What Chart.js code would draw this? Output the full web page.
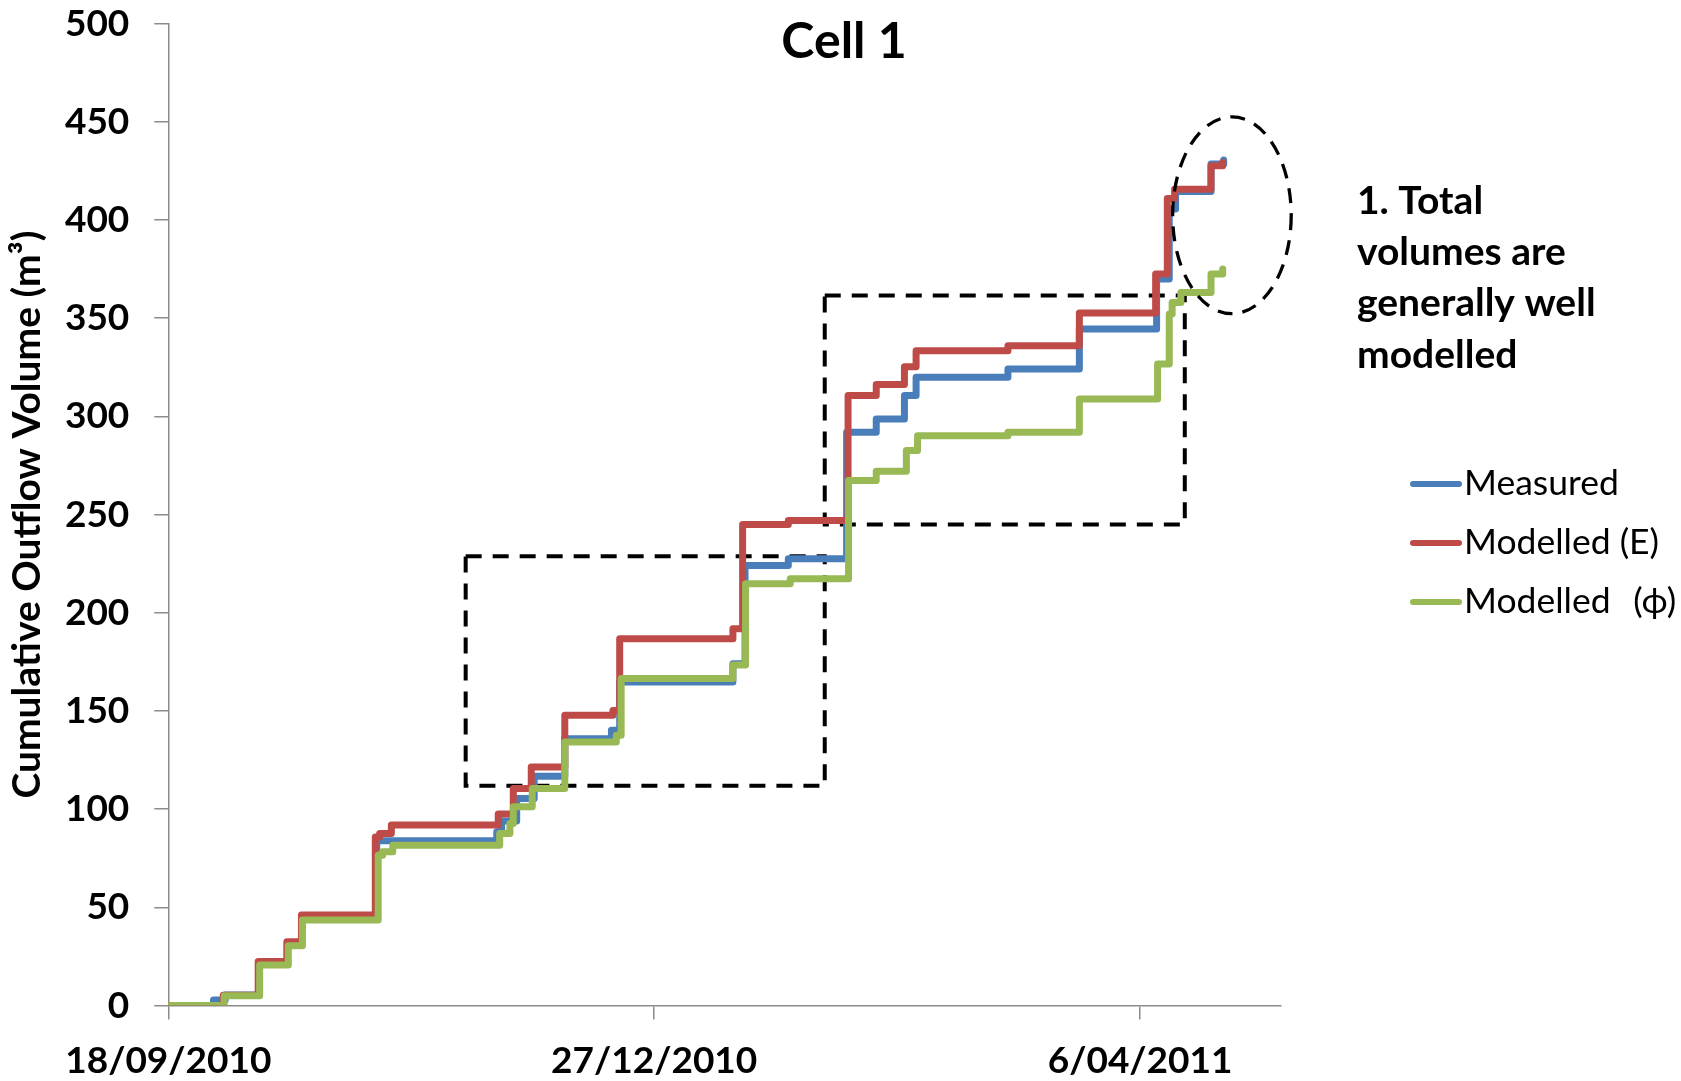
<!DOCTYPE html>
<html><head><meta charset="utf-8">
<script src="https://cdn.jsdelivr.net/npm/chart.js@4.4.1/dist/chart.umd.min.js"></script>
<style>html,body{margin:0;padding:0;background:#fff;overflow:hidden;}</style>
</head><body>
<canvas id="c" width="1681" height="1081"></canvas>
<script>
// ---- data (days since 18/09/2010, cumulative volume m3) ----
const xTickDays = [0, 100, 200];
const xTickLabels = ['18/09/2010', '27/12/2010', '6/04/2011'];
const seriesNames = ['Measured', 'Modelled (E)', 'Modelled  \u2009(\u03D5)'];
const chartTitle = 'Cell 1';
const yAxisTitle = 'Cumulative Outflow Volume (m\u00B3)';

const measuredDay = [0, 9.3, 11.7, 18.6, 24.5, 27.5, 42.9, 67.6, 68.6, 71.7, 75.3, 81.6, 91.2, 92.9, 116.2, 118.7, 127.6, 139.6, 145.7, 151.5, 153.9, 172.8, 187.5, 203.4, 206.0, 207.3, 214.6, 217.2];
const measuredVol = [0, 2.8, 5.4, 21.8, 31.6, 44.0, 83.9, 88.5, 94.0, 105.4, 116.8, 135.9, 140.2, 164.8, 174.1, 224.1, 227.5, 291.9, 298.7, 310.6, 319.9, 324.1, 344.5, 370.0, 405.6, 414.5, 428.5, 430.5];

const modelEDay = [0, 11.3, 18.5, 24.4, 27.4, 42.6, 43.5, 45.9, 67.9, 71.0, 74.7, 81.6, 91.5, 92.9, 116.2, 118.2, 127.6, 139.9, 145.7, 151.5, 153.9, 172.8, 187.5, 203.2, 205.6, 207.1, 214.6, 217.0];
const modelEVol = [0, 5.3, 22.5, 32.5, 46.1, 85.9, 87.6, 92.0, 97.5, 110.5, 121.5, 147.8, 150.3, 186.8, 191.9, 245.0, 247.0, 310.6, 316.2, 325.3, 333.4, 336.0, 352.6, 372.5, 411.0, 415.7, 427.6, 429.3];

const modelPhiDay = [0, 11.5, 18.8, 24.7, 27.6, 43.2, 44.1, 46.2, 68.2, 70.3, 71.0, 74.9, 81.6, 92.2, 93.2, 116.2, 118.8, 128.0, 140.0, 145.7, 151.9, 154.2, 172.8, 187.5, 203.6, 206.0, 206.6, 208.4, 214.6, 217.0];
const modelPhiVol = [0, 5.0, 20.7, 30.5, 43.6, 76.6, 78.3, 81.7, 87.6, 92.7, 101.2, 110.5, 134.2, 137.6, 166.5, 173.4, 214.8, 217.3, 267.3, 272.1, 282.6, 290.2, 291.9, 308.9, 326.7, 352.1, 358.0, 363.1, 372.5, 375.0];

// highlighted regions (data coordinates)
const boxDays = [[61.2, 135.1], [135.1, 209.2]];
const boxVols = [[111.9, 228.8], [245.0, 361.6]];
const ellipseCenter = [218.9, 402.4];
const ellipseRadius = [12.2, 50.1];
const noteLines = ['1. Total', 'volumes are', 'generally well', 'modelled'];

const colors = ['#4A7EBB', '#BE4B48', '#98B954'];
const toXY = (d, v) => d.map((x, i) => ({x: x, y: v[i]}));

const overlay = {
  id: 'overlay',
  beforeDatasetsDraw(chart) {
    const ctx = chart.ctx, x = chart.scales.x, y = chart.scales.y;
    ctx.save();
    ctx.strokeStyle = '#000';
    ctx.lineWidth = 4;
    ctx.setLineDash([16, 11]);
    boxDays.forEach((bd, i) => {
      const l = x.getPixelForValue(bd[0]), r = x.getPixelForValue(bd[1]);
      const t = y.getPixelForValue(boxVols[i][1]), b = y.getPixelForValue(boxVols[i][0]);
      ctx.strokeRect(l, t, r - l, b - t);
    });
    ctx.restore();
  },
  afterDraw(chart) {
    const ctx = chart.ctx, x = chart.scales.x, y = chart.scales.y, ca = chart.chartArea;
    ctx.save();
    // title
    ctx.fillStyle = '#000';
    ctx.font = 'bold 50px Lato';
    ctx.textAlign = 'center'; ctx.textBaseline = 'middle';
    ctx.fillText(chartTitle, 844, 42);
    // ellipse
    const cx = x.getPixelForValue(ellipseCenter[0]), cy = y.getPixelForValue(ellipseCenter[1]);
    const rx = x.getPixelForValue(ellipseCenter[0] + ellipseRadius[0]) - cx;
    const ry = cy - y.getPixelForValue(ellipseCenter[1] + ellipseRadius[1]);
    ctx.strokeStyle = '#000'; ctx.lineWidth = 3.3; ctx.setLineDash([15, 10]);
    ctx.beginPath(); ctx.ellipse(cx, cy, rx, ry, 0, 0, Math.PI * 2); ctx.stroke();
    ctx.setLineDash([]);
    // note text
    ctx.fillStyle = '#000';
    ctx.font = 'bold 39px Lato';
    ctx.textAlign = 'left'; ctx.textBaseline = 'alphabetic';
    noteLines.forEach((t, i) => ctx.fillText(t, ca.right + 76, 214 + i * 51.2));
    // legend
    ctx.font = '35.5px Lato';
    ctx.textBaseline = 'middle';
    chart.data.datasets.forEach((ds, i) => {
      const ly = 484 + i * 59;
      ctx.strokeStyle = ds.borderColor; ctx.lineWidth = 6; ctx.lineCap = 'round';
      ctx.beginPath(); ctx.moveTo(ca.right + 132, ly); ctx.lineTo(ca.right + 178, ly); ctx.stroke();
      ctx.fillStyle = '#000';
      ctx.fillText(ds.label, ca.right + 183, ly);
    });
    ctx.restore();
  }
};

const mkDs = (i, d, v, order) => ({
  label: seriesNames[i], data: toXY(d, v), borderColor: colors[i], backgroundColor: colors[i],
  borderWidth: 7, pointRadius: 0, stepped: true, fill: false, order: order,
  borderCapStyle: 'round', borderJoinStyle: 'round'
});

const axisGray = '#8c8c8c';
new Chart(document.getElementById('c'), {
  type: 'line',
  data: { datasets: [
    mkDs(0, measuredDay, measuredVol, 3),
    mkDs(1, modelEDay, modelEVol, 2),
    mkDs(2, modelPhiDay, modelPhiVol, 1)
  ]},
  options: {
    responsive: false, animation: false,
    layout: { padding: { left: 0, right: 400, top: 23.6, bottom: 0 } },
    plugins: {
      legend: { display: false },
      tooltip: { enabled: false },
      title: { display: false }
    },
    scales: {
      x: {
        type: 'linear', min: 0, max: 229,
        afterBuildTicks: s => { s.ticks = xTickDays.map(v => ({ value: v })); },
        afterFit: s => { s.height = 75.4; s.paddingLeft = 0; s.paddingRight = 0; },
        ticks: { callback: (v, i) => xTickLabels[i], color: '#000', padding: 19,
          font: { family: 'Lato', size: 37, weight: 'bold' }, maxRotation: 0, autoSkip: false },
        grid: { drawOnChartArea: false, drawTicks: true, tickLength: 14, color: axisGray, lineWidth: 1.5 },
        border: { display: true, color: axisGray, width: 1.5 }
      },
      y: {
        min: 0, max: 500,
        afterFit: s => { s.width = 168.3; s.paddingTop = 0; s.paddingBottom = 0; },
        ticks: { stepSize: 50, color: '#000', padding: 25,
          font: { family: 'Lato', size: 37, weight: 'bold' } },
        grid: { drawOnChartArea: false, drawTicks: true, tickLength: 14, color: axisGray, lineWidth: 1.5 },
        border: { display: true, color: axisGray, width: 1.5 },
        title: { display: true, text: yAxisTitle, color: '#000',
          font: { family: 'Lato', size: 39, weight: 'bold' }, padding: { top: 4, bottom: 0 } }
      }
    }
  },
  plugins: [overlay]
});
</script>
</body></html>
